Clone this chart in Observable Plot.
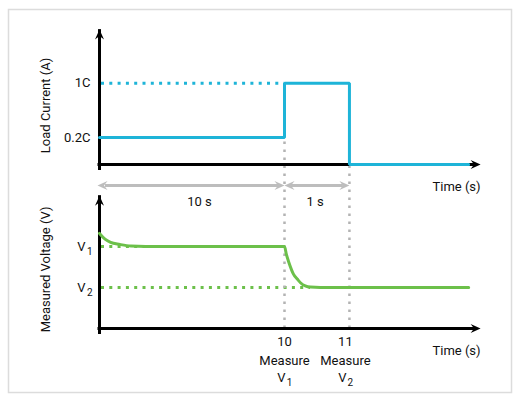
<!DOCTYPE html>
<html>
<head>
<meta charset="utf-8">
<script src="https://cdn.jsdelivr.net/npm/d3@7"></script>
<script src="https://cdn.jsdelivr.net/npm/@observablehq/plot@0.6"></script>
<style>
  html, body { margin: 0; padding: 0; background: #fff; }
  #chart svg { display: block; }
</style>
</head>
<body>
<div id="chart"></div>
<script>
// ---- Data ----
// Load current (in C-rate) step profile
const currentTimes = [0, 10, 11, 13];
const currentLevels = [0.2, 1, 0, 0];
const currentTicks = [0.2, 1];
const currentTickLabels = ["0.2C", "1C"];

// Measured voltage (relative to V1 = 1) response
const voltageTimes  = [0, 0.3, 0.6, 1.1, 1.7, 2.5, 10, 10.03, 10.07, 10.14, 10.2, 10.25, 10.32, 10.4, 10.55, 13];
const voltageValues = [1.16, 1.09, 1.05, 1.025, 1.005, 1.0, 1.0, 0.9, 0.8, 0.66, 0.6, 0.555, 0.52, 0.505, 0.5, 0.5];
const voltageTicks = [1, 0.5];
const voltageTickNames = ["V1", "V2"];

// Measurement instants
const measureTimes = [10, 11];
const measureLabels = ["10", "11"];
const measureNames = ["V1", "V2"];

// Intervals
const intervals = [{from: 0, to: 10, label: "10 s"}, {from: 10, to: 11, label: "1 s"}];

// ---- Schematic (broken) axes ----
const tEnd = 13.2;
// time axis is not to scale: the 1 s interval is stretched
const T = d3.scaleLinear().domain([0, 10, 11, tEnd]).range([0, 10, 13.51, 20.6]);
// panels stacked in one y scale: voltage panel at 0, current panel at 2
const currentBase = 2;
const C = d3.scaleLinear().domain([0, 0.2, 1]).range([currentBase, currentBase + 0.33, currentBase + 0.99]);
const voltageTop = 1.62, currentTop = 3.645, annoY = 1.745;
const px = 10 / 185; // x units per pixel in the first segment

const blue = "#1eb4d8", green = "#6cc04a", gray = "#bdbdbd", guide = "#b3b3b3", ink = "#111";
const font = "Roboto, 'Liberation Sans', sans-serif";

// Arrow-head symbols (tip at origin)
const L = 10, W = 9, N = 0.35;
const headRight = {draw(c) { c.moveTo(0, 0); c.lineTo(-L, -W / 2); c.lineTo(-L * (1 - N), 0); c.lineTo(-L, W / 2); c.closePath(); }};
const headLeft  = {draw(c) { c.moveTo(0, 0); c.lineTo(L, -W / 2); c.lineTo(L * (1 - N), 0); c.lineTo(L, W / 2); c.closePath(); }};
const headUp    = {draw(c) { c.moveTo(0, 0); c.lineTo(-W / 2, L); c.lineTo(0, L * (1 - N)); c.lineTo(W / 2, L); c.closePath(); }};

const current = currentTimes.map((t, i) => ({t: T(t), y: C(currentLevels[i])}));
const voltage = voltageTimes.map((t, i) => ({t: T(t), y: voltageValues[i]}));
const bases = [0, currentBase];
const tops = [voltageTop, currentTop];
const fs = 13;
// label x position (slightly left for the second instant, as in the original)
const mx = (d, i) => T(d) - (i === 0 ? 0 : 4 * px);

const plot = Plot.plot({
  width: 519,
  height: 399,
  marginLeft: 8, marginRight: 8, marginTop: 9, marginBottom: 7,
  style: {fontFamily: font, background: "#fff", overflow: "visible"},
  x: {type: "linear", domain: [0, 10], range: [99, 284], axis: null},
  y: {type: "linear", domain: [0, 4], range: [328, 0], axis: null},
  marks: [
    Plot.frame({stroke: "#dcdcdc", strokeWidth: 1.5}),
    // reference dotted lines
    Plot.ruleY([C(1)], {x1: 0, x2: 10, stroke: blue, strokeWidth: 3, strokeDasharray: "3,5.3", insetLeft: 2}),
    Plot.ruleY(voltageTicks, {x1: 0, x2: (d, i) => i === 0 ? 10 : T(10.4), stroke: green, strokeWidth: 3, strokeDasharray: "3,5.3", insetLeft: 2}),
    // measurement guides
    Plot.ruleX(measureTimes, {x: d => T(d), y1: 0, y2: (d, i) => C(i === 0 ? currentTicks[0] : 0), stroke: guide, strokeWidth: 2.5, strokeDasharray: "2.5,5.5"}),
    // axes
    Plot.ruleX(bases, {x: 0, y1: d => d, y2: (d, i) => tops[i], stroke: "#000", strokeWidth: 3, insetTop: 6}),
    Plot.ruleY(bases, {x1: 0, x2: T(tEnd), y: d => d, stroke: "#000", strokeWidth: 3, insetRight: 6, insetLeft: -1.5}),
    Plot.dot(bases, {x: 0, y: (d, i) => tops[i], symbol: headUp, fill: "#000", stroke: null, r: 5}),
    Plot.dot(bases, {x: T(tEnd), y: d => d, symbol: headRight, fill: "#000", stroke: null, r: 5}),
    // series
    Plot.line(current, {x: "t", y: "y", curve: "step-after", stroke: blue, strokeWidth: 3, strokeLinejoin: "miter"}),
    Plot.line(voltage, {x: "t", y: "y", curve: "monotone-x", stroke: green, strokeWidth: 3}),
    // interval arrows
    Plot.ruleY(intervals, {x1: d => T(d.from), x2: d => T(d.to), y: annoY, stroke: gray, strokeWidth: 3, insetLeft: 6, insetRight: 6}),
    Plot.dot(intervals, {x: d => T(d.from) - (d.from === 0 ? 2 * px : 0), y: annoY, symbol: headLeft, fill: gray, stroke: null, r: 5}),
    Plot.dot(intervals, {x: d => T(d.to), y: annoY, symbol: headRight, fill: gray, stroke: null, r: 5}),
    Plot.text(intervals, {x: d => T((d.from + d.to) / 2) + (d.to - d.from > 2 ? 0.4 : -0.1), y: annoY, dy: 16, text: "label", fontSize: fs, fill: ink}),
    // y tick labels: current
    Plot.text(currentTicks, {x: 0, y: d => C(d), text: (d, i) => currentTickLabels[i], textAnchor: "end", dx: -9, fontSize: fs, fill: ink}),
    // y tick labels: voltage (V with subscript)
    Plot.text(voltageTicks, {x: 0, y: d => d, text: () => "V", textAnchor: "end", dx: -14, fontSize: fs, fill: ink}),
    Plot.text(voltageTicks, {x: 0, y: d => d, text: (d, i) => voltageTickNames[i].slice(1), textAnchor: "end", dx: -7, dy: 5, fontSize: 10, fill: ink}),
    // x tick labels
    Plot.text(measureTimes, {x: mx, y: 0, text: (d, i) => measureLabels[i], dy: 13, fontSize: fs, fill: ink}),
    Plot.text(measureTimes, {x: mx, y: 0, text: () => "Measure", dy: 32, fontSize: fs, fill: ink}),
    Plot.text(measureTimes, {x: mx, y: 0, text: () => "V", dy: 49, dx: -3, fontSize: fs, fill: ink}),
    Plot.text(measureTimes, {x: mx, y: 0, text: (d, i) => measureNames[i].slice(1), dy: 54, dx: 5, fontSize: 10, fill: ink}),
    // axis titles
    Plot.text(bases, {x: T(tEnd), y: d => d, text: () => "Time (s)", textAnchor: "end", dy: 22, fontSize: fs, fill: ink}),
    Plot.text(["Load Current (A)"], {x: 0, y: currentBase + 0.72, text: d => d, rotate: -90, dx: -54, fontSize: fs, fill: ink}),
    Plot.text(["Measured Voltage (V)"], {x: 0, y: 0.72, text: d => d, rotate: -90, dx: -54, fontSize: fs, fill: ink})
  ]
});
document.getElementById("chart").appendChild(plot);
</script>
</body>
</html>
